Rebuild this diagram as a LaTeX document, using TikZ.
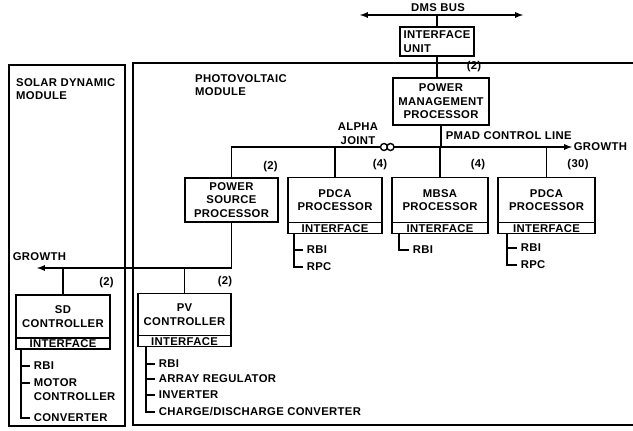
\documentclass[tikz,border=0pt]{standalone}
\usepackage{fontspec}
\setmainfont{Liberation Sans}[LetterSpace=3]
\usetikzlibrary{arrows,positioning}

\begin{document}
\begin{tikzpicture}[x=1pt,y=-1pt,>=latex,line width=1.7pt,
    every node/.style={font=\bfseries\fontsize{11.3}{13.5}\selectfont},
    box/.style={draw,align=center,outer sep=0pt,inner sep=1pt},
    iface/.style={draw,outer sep=0pt,inner xsep=1pt,inner ysep=1.5pt,
      text height=8pt,text depth=0pt,minimum height=11pt},
    mult/.style={inner sep=1pt},
    item/.style={anchor=west,align=left,inner xsep=3pt,inner ysep=1pt}]
  \useasboundingbox (0,0) rectangle (633,431);

  % modules
  \draw (9,65) rectangle (125,426);
  \draw (133,63) rectangle (640,425);
  \node[anchor=north west,align=left] (sdm) at (12,74) {SOLAR DYNAMIC\\MODULE};
  \node[anchor=north west,align=left] (pvm) at (191,70) {PHOTOVOLTAIC\\MODULE};

  % bus and management processor
  \node (dms) at (438,8) {DMS BUS};
  \coordinate (busL) at (360,15);
  \coordinate (busR) at (523,15);
  \draw[<->] (busL) -- (busR);
  \node[box,align=left,minimum width=74pt,minimum height=29pt] (IU) at (437,41.5) {INTERFACE\\UNIT};
  \node[box,minimum width=96pt,minimum height=47pt] (PMP) at (441,101.5) {POWER\\MANAGEMENT\\PROCESSOR};
  \node[mult] (nPMP) at (474,67) {(2)};
  \draw (IU.north) -- (IU.north|-busL);
  \draw (IU.south) -- (IU.south|-PMP.north);

  % processors on the control line
  \node[box,minimum width=93pt,minimum height=44pt] (PSP)   at (231.5,200) {POWER\\SOURCE\\PROCESSOR};
  \node[box,minimum width=94pt,minimum height=45pt] (PDCAa) at (335,200)   {PDCA\\PROCESSOR};
  \node[box,minimum width=96pt,minimum height=45pt] (MBSA)  at (440,200)   {MBSA\\PROCESSOR};
  \node[box,minimum width=97pt,minimum height=45pt] (PDCAb) at (546.5,200) {PDCA\\PROCESSOR};
  \node[iface,minimum width=94pt,below=0pt of PDCAa] (PDCAaI) {INTERFACE};
  \node[iface,minimum width=96pt,below=0pt of MBSA]  (MBSAI)  {INTERFACE};
  \node[iface,minimum width=97pt,below=0pt of PDCAb] (PDCAbI) {INTERFACE};
  \node[mult] (nPSP)   at (270.5,167) {(2)};
  \node[mult] (nPDCAa) at (380,165)   {(4)};
  \node[mult] (nMBSA)  at (478,165)   {(4)};
  \node[mult] (nPDCAb) at (578,165)   {(30)};

  \coordinate (grR) at (572,147);
  \draw[->] (PSP.north) |- (grR);
  \node[anchor=west,inner sep=1pt] (grRt) at (grR) {GROWTH};
  \draw (PMP.south)   -- (PMP.south|-grR);
  \draw (PDCAa.north) -- (PDCAa.north|-grR);
  \draw (MBSA.north)  -- (MBSA.north|-grR);
  \draw (PDCAb.north) -- (PDCAb.north|-grR);
  \node[circle,draw,fill=white,inner sep=0pt,minimum size=7pt,line width=1.4pt] (aj1) at (384,147) {};
  \node[circle,draw,fill=white,inner sep=0pt,minimum size=7pt,line width=1.4pt] (aj2) at (390.5,147) {};
  \node[align=center] (ajt) at (358,133.5) {ALPHA\\JOINT};
  \node[anchor=west,inner sep=1pt] (pmad) at (444,136) {PMAD CONTROL LINE};

  % controllers
  \node[box,minimum width=94pt,minimum height=43pt] (SDC) at (63,316.5)  {SD\\CONTROLLER};
  \node[box,minimum width=93pt,minimum height=42pt] (PVC) at (184.5,314.5) {PV\\CONTROLLER};
  \node[iface,minimum width=94pt,below=0pt of SDC] (SDCI) {INTERFACE};
  \node[iface,minimum width=93pt,below=0pt of PVC] (PVCI) {INTERFACE};
  \node[mult] (nSDC) at (106.5,283) {(2)};
  \node[mult] (nPVC) at (225,282)   {(2)};

  \coordinate (grL) at (37,268);
  \draw[->] (PSP.south) |- (grL);
  \node[anchor=west,inner sep=1pt] (grLt) at (11,257) {GROWTH};
  \draw (SDC.north) -- (SDC.north|-grL);
  \draw (PVC.north) -- (PVC.north|-grL);

  % interface lists
  \coordinate[xshift=6pt] (bA) at (PDCAaI.south west);
  \node[item] (a1) at (303,250) {RBI};
  \node[item] (a2) at (303,267) {RPC};
  \draw (bA) |- (a2.west);
  \draw (bA|-a1.west) -- (a1.west);

  \coordinate[xshift=7pt] (bB) at (MBSAI.south west);
  \node[item] (b1) at (409,250) {RBI};
  \draw (bB) |- (b1.west);

  \coordinate[xshift=9pt] (bC) at (PDCAbI.south west);
  \node[item] (c1) at (517,248) {RBI};
  \node[item] (c2) at (517,265) {RPC};
  \draw (bC) |- (c2.west);
  \draw (bC|-c1.west) -- (c1.west);

  \coordinate[xshift=5pt] (bS) at (SDCI.south west);
  \node[item] (s1) at (30,366)   {RBI};
  \node[item] (s2) at (30,389.5) {MOTOR\\CONTROLLER};
  \node[item] (s3) at (30,418)   {CONVERTER};
  \coordinate[yshift=6.5pt] (s2t) at (s2.west);
  \draw (bS) |- (s3.west);
  \draw (bS|-s1.west) -- (s1.west);
  \draw (bS|-s2t) -- (s2t);

  \coordinate[xshift=8pt] (bP) at (PVCI.south west);
  \node[item] (p1) at (155,364) {RBI};
  \node[item] (p2) at (155,379) {ARRAY REGULATOR};
  \node[item] (p3) at (155,395) {INVERTER};
  \node[item] (p4) at (155,412) {CHARGE/DISCHARGE CONVERTER};
  \draw (bP) |- (p4.west);
  \draw (bP|-p1.west) -- (p1.west);
  \draw (bP|-p2.west) -- (p2.west);
  \draw (bP|-p3.west) -- (p3.west);
\end{tikzpicture}
\end{document}
